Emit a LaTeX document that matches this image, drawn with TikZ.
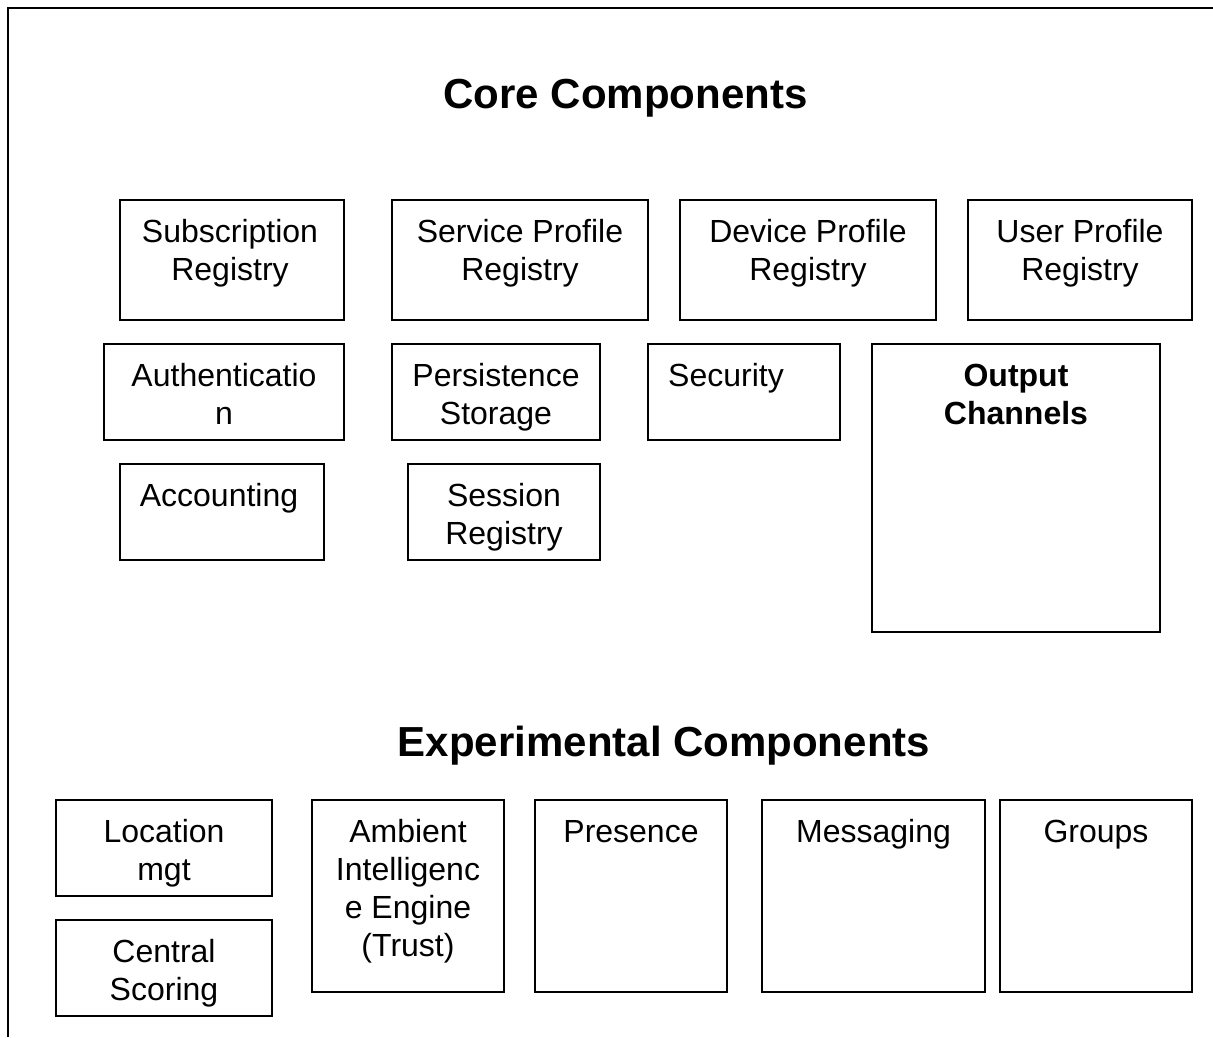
\documentclass[tikz,border=0pt]{standalone}
\usepackage{fontspec}
\setmainfont{Liberation Sans}

\newcommand\bodyfont{\fontsize{32}{38}\selectfont}
\newcommand\headfont{\fontsize{42}{50}\selectfont\bfseries}

\tikzset{
  compbox/.style={draw=black, line width=1.9pt, inner sep=0pt, outer sep=0pt,
                  anchor=north west, rectangle},
  complabel/.style={anchor=base, inner sep=0pt, outer sep=0pt, font=\bodyfont},
  heading/.style={anchor=base, inner sep=0pt, font=\headfont},
  frameline/.style={draw=black, line width=2.5pt},
}

% \comp{name}{x1}{y1}{x2}{y2}{text x-offset}{text}
\newcommand\comp[7]{%
  \node[compbox, minimum width={#4pt-#2pt}, minimum height={#5pt-#3pt}] (#1) at (#2,#3) {};
  \node[complabel] (#1-text) at ([xshift=#6pt, yshift=-42pt]#1.north)
    {\parbox[t]{320pt}{\centering #7}};
}

\begin{document}
\begin{tikzpicture}[x=1pt, y=-1pt]
  \useasboundingbox (0,0) rectangle (1213,1037);

  % open outer frame
  \coordinate (frame-bl) at (8,1037);
  \coordinate (frame-tl) at (8,8);
  \coordinate (frame-tr) at (1213,8);
  \draw[frameline] (frame-bl) -- (frame-tl) -- (frame-tr);

  % section headings
  \node[heading] (core-title) at (625.5,108) {Core Components};
  \node[heading] (exp-title) at (664,756) {Experimental Components};

  % core components
  \comp{subreg}{120}{200}{344}{320}{-2}{Subscription\\Registry}
  \comp{svcprof}{392}{200}{648}{320}{0}{Service Profile\\Registry}
  \comp{devprof}{680}{200}{936}{320}{0}{Device Profile\\Registry}
  \comp{userprof}{968}{200}{1192}{320}{0}{User Profile\\Registry}
  \comp{auth}{104}{344}{344}{440}{0}{Authenticatio\\n}
  \comp{persist}{392}{344}{600}{440}{0}{Persistence\\Storage}
  \comp{security}{648}{344}{840}{440}{-18}{Security}
  \comp{output}{872}{344}{1160}{632}{0}{\bfseries Output\\Channels}
  \comp{account}{120}{464}{324}{560}{-3}{Accounting}
  \comp{session}{408}{464}{600}{560}{0}{Session\\Registry}

  % experimental components
  \comp{location}{56}{800}{272}{896}{0}{Location\\mgt}
  \comp{central}{56}{920}{272}{1016}{0}{Central\\Scoring}
  \comp{ambient}{312}{800}{504}{992}{0}{Ambient\\Intelligenc\\e Engine\\(Trust)}
  \comp{presence}{535}{800}{727}{992}{0}{Presence}
  \comp{messaging}{762}{800}{985}{992}{0}{Messaging}
  \comp{groups}{1000}{800}{1192}{992}{0}{Groups}
\end{tikzpicture}
\end{document}
